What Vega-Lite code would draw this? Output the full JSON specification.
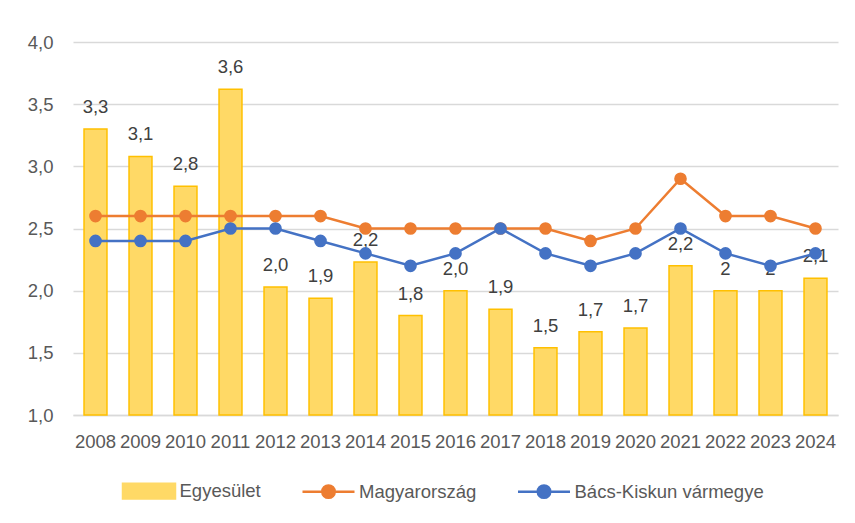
{
  "$schema": "https://vega.github.io/schema/vega-lite/v6.json",
  "width": 765,
  "height": 373,
  "autosize": {"type": "none"},
  "padding": {"left": 73, "top": 42, "right": 17, "bottom": 108},
  "background": "white",
  "config": {
    "view": {"stroke": null},
    "font": "Liberation Sans"
  },
  "data": {
    "values": [
      {"year": "2008", "series": "Egyesület", "value": 3.3, "label": "3,3"},
      {"year": "2009", "series": "Egyesület", "value": 3.08, "label": "3,1"},
      {"year": "2010", "series": "Egyesület", "value": 2.84, "label": "2,8"},
      {"year": "2011", "series": "Egyesület", "value": 3.62, "label": "3,6"},
      {"year": "2012", "series": "Egyesület", "value": 2.03, "label": "2,0"},
      {"year": "2013", "series": "Egyesület", "value": 1.94, "label": "1,9"},
      {"year": "2014", "series": "Egyesület", "value": 2.23, "label": "2,2"},
      {"year": "2015", "series": "Egyesület", "value": 1.8, "label": "1,8"},
      {"year": "2016", "series": "Egyesület", "value": 2.0, "label": "2,0"},
      {"year": "2017", "series": "Egyesület", "value": 1.85, "label": "1,9"},
      {"year": "2018", "series": "Egyesület", "value": 1.54, "label": "1,5"},
      {"year": "2019", "series": "Egyesület", "value": 1.67, "label": "1,7"},
      {"year": "2020", "series": "Egyesület", "value": 1.7, "label": "1,7"},
      {"year": "2021", "series": "Egyesület", "value": 2.2, "label": "2,2"},
      {"year": "2022", "series": "Egyesület", "value": 2.0, "label": "2"},
      {"year": "2023", "series": "Egyesület", "value": 2.0, "label": "2"},
      {"year": "2024", "series": "Egyesület", "value": 2.1, "label": "2,1"},
      {"year": "2008", "series": "Magyarország", "value": 2.6},
      {"year": "2009", "series": "Magyarország", "value": 2.6},
      {"year": "2010", "series": "Magyarország", "value": 2.6},
      {"year": "2011", "series": "Magyarország", "value": 2.6},
      {"year": "2012", "series": "Magyarország", "value": 2.6},
      {"year": "2013", "series": "Magyarország", "value": 2.6},
      {"year": "2014", "series": "Magyarország", "value": 2.5},
      {"year": "2015", "series": "Magyarország", "value": 2.5},
      {"year": "2016", "series": "Magyarország", "value": 2.5},
      {"year": "2017", "series": "Magyarország", "value": 2.5},
      {"year": "2018", "series": "Magyarország", "value": 2.5},
      {"year": "2019", "series": "Magyarország", "value": 2.4},
      {"year": "2020", "series": "Magyarország", "value": 2.5},
      {"year": "2021", "series": "Magyarország", "value": 2.9},
      {"year": "2022", "series": "Magyarország", "value": 2.6},
      {"year": "2023", "series": "Magyarország", "value": 2.6},
      {"year": "2024", "series": "Magyarország", "value": 2.5},
      {"year": "2008", "series": "Bács-Kiskun vármegye", "value": 2.4},
      {"year": "2009", "series": "Bács-Kiskun vármegye", "value": 2.4},
      {"year": "2010", "series": "Bács-Kiskun vármegye", "value": 2.4},
      {"year": "2011", "series": "Bács-Kiskun vármegye", "value": 2.5},
      {"year": "2012", "series": "Bács-Kiskun vármegye", "value": 2.5},
      {"year": "2013", "series": "Bács-Kiskun vármegye", "value": 2.4},
      {"year": "2014", "series": "Bács-Kiskun vármegye", "value": 2.3},
      {"year": "2015", "series": "Bács-Kiskun vármegye", "value": 2.2},
      {"year": "2016", "series": "Bács-Kiskun vármegye", "value": 2.3},
      {"year": "2017", "series": "Bács-Kiskun vármegye", "value": 2.5},
      {"year": "2018", "series": "Bács-Kiskun vármegye", "value": 2.3},
      {"year": "2019", "series": "Bács-Kiskun vármegye", "value": 2.2},
      {"year": "2020", "series": "Bács-Kiskun vármegye", "value": 2.3},
      {"year": "2021", "series": "Bács-Kiskun vármegye", "value": 2.5},
      {"year": "2022", "series": "Bács-Kiskun vármegye", "value": 2.3},
      {"year": "2023", "series": "Bács-Kiskun vármegye", "value": 2.2},
      {"year": "2024", "series": "Bács-Kiskun vármegye", "value": 2.3}
    ]
  },
  "encoding": {
    "x": {
      "field": "year",
      "type": "ordinal",
      "scale": {"paddingInner": 0.49, "paddingOuter": 0.245},
      "axis": {
        "title": null,
        "labelAngle": 0,
        "labelFontSize": 18.5,
        "labelColor": "#595959",
        "labelPadding": 17,
        "ticks": false,
        "domainColor": "#D9D9D9",
        "domainWidth": 1.3,
        "grid": false
      }
    },
    "y": {
      "field": "value",
      "type": "quantitative",
      "scale": {"domain": [1, 4]},
      "axis": {
        "title": null,
        "values": [1, 1.5, 2, 2.5, 3, 3.5, 4],
        "labelExpr": "replace(format(datum.value, '.1f'), '.', ',')",
        "labelFontSize": 18.5,
        "labelColor": "#595959",
        "labelPadding": 20,
        "domain": false,
        "ticks": false,
        "gridColor": "#D9D9D9",
        "gridWidth": 1.3
      }
    },
    "color": {
      "field": "series",
      "type": "nominal",
      "scale": {
        "domain": ["Egyesület", "Magyarország", "Bács-Kiskun vármegye"],
        "range": ["#FFD966", "#ED7D31", "#4472C4"]
      },
      "legend": {
        "title": null,
        "orient": "none",
        "legendX": 48.5,
        "legendY": 421.5,
        "direction": "horizontal",
        "columns": 3,
        "columnPadding": 35.5,
        "padding": 0,
        "symbolSize": 2704,
        "symbolStrokeWidth": 2.5,
        "labelOffset": 3,
        "labelFontSize": 18.5,
        "labelColor": "#595959",
        "labelLimit": 400,
        "encode": {
          "symbols": {
            "update": {
              "shape": {"signal": "datum.value === 'Egyesület' ? 'M-1,-0.28H1V0.28H-1Z' : 'M-1,0H1M-0.24,0A0.24,0.24,0,1,0,0.24,0A0.24,0.24,0,1,0,-0.24,0Z'"},
              "fill": {"signal": "datum.value === 'Egyesület' ? '#FFD966' : (datum.value === 'Magyarország' ? '#ED7D31' : '#4472C4')"},
              "stroke": {"signal": "datum.value === 'Egyesület' ? '#FFC000' : (datum.value === 'Magyarország' ? '#ED7D31' : '#4472C4')"},
              "strokeWidth": {"value": 2.5},
              "opacity": {"value": 1},
              "fillOpacity": {"value": 1},
              "strokeOpacity": {"value": 1}
            }
          }
        }
      }
    }
  },
  "layer": [
    {
      "transform": [{"filter": "datum.series === 'Egyesület'"}],
      "mark": {"type": "bar", "stroke": "#FFC000", "strokeWidth": 1.5},
      "encoding": {"y2": {"datum": 1}}
    },
    {
      "transform": [{"filter": "datum.series === 'Egyesület'"}],
      "mark": {"type": "text", "baseline": "alphabetic", "dy": -16, "fontSize": 18.5},
      "encoding": {"text": {"field": "label"}, "color": {"value": "#404040"}}
    },
    {
      "transform": [{"filter": "datum.series === 'Magyarország'"}],
      "mark": {"type": "line", "strokeWidth": 2.5, "point": {"filled": true, "size": 160}}
    },
    {
      "transform": [{"filter": "datum.series === 'Bács-Kiskun vármegye'"}],
      "mark": {"type": "line", "strokeWidth": 2.5, "point": {"filled": true, "size": 160}}
    }
  ]
}
